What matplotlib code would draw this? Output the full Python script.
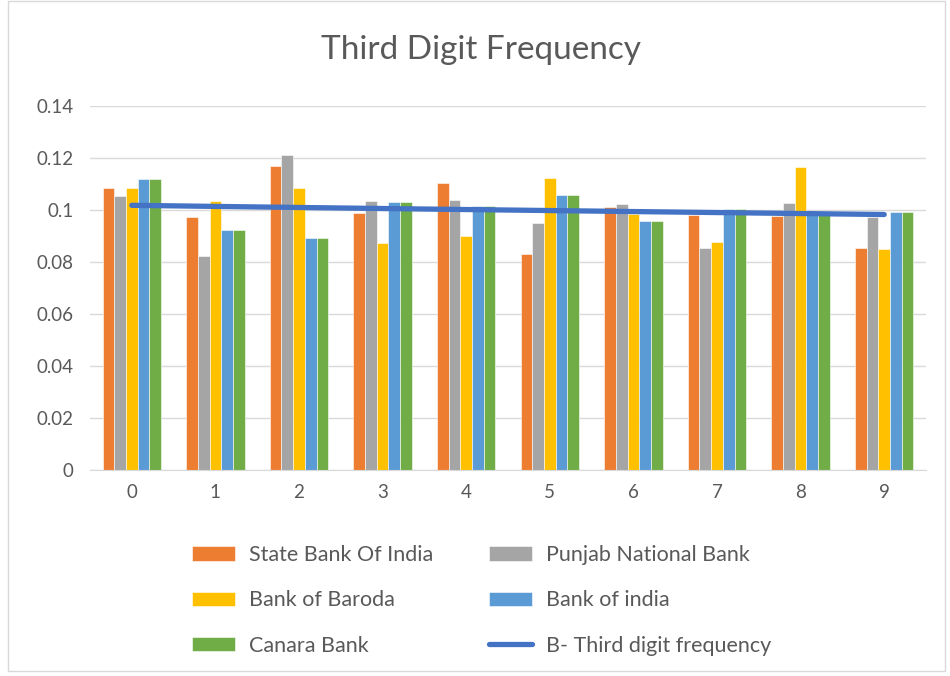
import matplotlib
matplotlib.use("Agg")
import matplotlib.pyplot as plt
import numpy as np
from matplotlib.patches import Rectangle

plt.rcParams['font.family'] = ['Lato', 'DejaVu Sans']

digits = ['0', '1', '2', '3', '4', '5', '6', '7', '8', '9']
sbi = [0.1083, 0.0973, 0.1170, 0.0988, 0.1104, 0.0830, 0.1013, 0.0980, 0.0978, 0.0854]
pnb = [0.1054, 0.0823, 0.1213, 0.1033, 0.1037, 0.0949, 0.1023, 0.0853, 0.1027, 0.0972]
bob = [0.1086, 0.1033, 0.1083, 0.0872, 0.0900, 0.1122, 0.0985, 0.0876, 0.1165, 0.0851]
boi = [0.1118, 0.0923, 0.0891, 0.1031, 0.1015, 0.1056, 0.0958, 0.1005, 0.0985, 0.0991]
canara = [0.1118, 0.0923, 0.0891, 0.1031, 0.1015, 0.1056, 0.0958, 0.1005, 0.0985, 0.0991]
benford = [0.10180, 0.10138, 0.10097, 0.10057, 0.10018, 0.09979, 0.09940, 0.09902, 0.09864, 0.09827]

names = ['State Bank Of India', 'Punjab National Bank', 'Bank of Baroda', 'Bank of india', 'Canara Bank']
colors = ['#ED7D31', '#A5A5A5', '#FFC000', '#5B9BD5', '#70AD47']
series = [sbi, pnb, bob, boi, canara]
line_name = 'B- Third digit frequency'
text_color = '#595959'

fig = plt.figure(figsize=(9.5, 6.76), dpi=100)
ax = fig.add_axes([90/950, 1-470/676, 836/950, 364/676])

x = np.arange(len(digits))
bw = 0.14
handles = []
for i, (vals, c, n) in enumerate(zip(series, colors, names)):
    h = ax.bar(x + (i - 2) * bw, vals, width=bw, color=c, label=n,
               edgecolor='white', linewidth=0.4, zorder=2)
    handles.append(h)
lh, = ax.plot(x, benford, color='#4472C4', linewidth=3.8, solid_capstyle='round',
              label=line_name, zorder=3)

ax.set_xlim(-0.5, 9.5)
ax.set_ylim(0, 0.14)
ax.set_yticks(np.arange(0, 0.141, 0.02))
ax.set_yticklabels(['0', '0.02', '0.04', '0.06', '0.08', '0.1', '0.12', '0.14'])
ax.set_xticks(x)
ax.set_xticklabels(digits)
ax.tick_params(axis='both', length=0, labelsize=13.5, colors=text_color)
ax.tick_params(axis='x', pad=10)
ax.tick_params(axis='y', pad=12)
ax.grid(axis='y', color='#D9D9D9', linewidth=1, zorder=0)
ax.set_axisbelow(True)
for s in ['top', 'right', 'left']:
    ax.spines[s].set_visible(False)
ax.spines['bottom'].set_color('#D9D9D9')

fig.text(481/950, 1-50/676, 'Third Digit Frequency', ha='center', va='center',
         fontsize=24, color=text_color)

order_handles = [handles[0], handles[2], handles[4], handles[1], handles[3], lh]
order_labels = [names[0], names[2], names[4], names[1], names[3], line_name]
leg = fig.legend(order_handles, order_labels, ncol=2, loc='upper left',
                 bbox_to_anchor=(192/950, 1-545/676), frameon=False,
                 borderaxespad=0, borderpad=0,
                 fontsize=15.5, labelcolor=text_color, handlelength=2.0,
                 handleheight=0.65, handletextpad=0.65, columnspacing=2.6,
                 labelspacing=1.18)

fig.patches.append(Rectangle((8/950, 0.008), 937/950, 0.99, transform=fig.transFigure,
                             fill=False, edgecolor='#D9D9D9', linewidth=1))

fig.savefig('out.png', dpi=100)
